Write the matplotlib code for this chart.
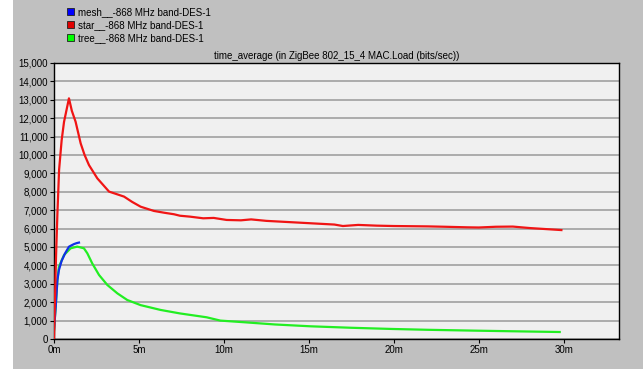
import matplotlib.pyplot as plt
from matplotlib.patches import Patch, Rectangle

# time in minutes, load in bits/sec
mesh_t = [0.0, 0.1, 0.2, 0.29, 0.45, 0.65, 0.88, 1.05, 1.18, 1.33, 1.47]
mesh_v = [490, 1760, 3200, 3750, 4250, 4650, 5016, 5100, 5160, 5210, 5240]

star_t = [0.0, 0.12, 0.2, 0.3, 0.45, 0.59, 0.88, 1.05, 1.27, 1.57, 1.8, 2.06, 2.55,
          3.24, 3.6, 4.12, 4.6, 5.1, 5.88, 6.5, 7.06, 7.41, 8.0, 8.78, 9.4, 10.16,
          11.0, 11.6, 12.5, 13.5, 14.5, 15.5, 16.5, 17.0, 17.9, 19.0, 20.0, 21.0,
          22.0, 23.0, 24.3, 25.0, 26.0, 27.0, 28.0, 29.86]
star_v = [0, 4500, 6800, 9200, 10800, 11800, 13080, 12400, 11810, 10630, 10000,
          9450, 8730, 8010, 7900, 7740, 7450, 7190, 6960, 6860, 6780, 6700, 6650,
          6560, 6580, 6470, 6450, 6500, 6420, 6370, 6320, 6270, 6220, 6140, 6200,
          6160, 6140, 6130, 6120, 6100, 6070, 6060, 6100, 6110, 6030, 5920]

tree_t = [0.0, 0.1, 0.2, 0.29, 0.59, 0.98, 1.37, 1.76, 1.96, 2.25, 2.65, 3.14,
          3.73, 4.31, 5.1, 6.27, 7.41, 8.98, 9.79, 11.2, 13.0, 15.1, 17.5, 19.9,
          22.0, 24.7, 27.0, 29.76]
tree_v = [490, 1760, 3200, 3930, 4565, 4930, 5020, 4930, 4660, 4110, 3480, 2935,
          2480, 2120, 1840, 1580, 1390, 1180, 1000, 910, 790, 690, 610, 545, 500,
          455, 420, 380]

x_ticks = [0, 5, 10, 15, 20, 25, 30]
x_labels = ['0m', '5m', '10m', '15m', '20m', '25m', '30m']
y_ticks = list(range(0, 15001, 1000))
labels = ['mesh__-868 MHz band-DES-1', 'star__-868 MHz band-DES-1', 'tree__-868 MHz band-DES-1']

plt.rcParams['font.family'] = ['Liberation Sans', 'DejaVu Sans']
plt.rcParams['font.size'] = 7

fig = plt.figure(figsize=(6.43, 3.69), dpi=100, facecolor='#c0c0c0')
fig.patches.append(Rectangle((0, 0), 13 / 643, 1, transform=fig.transFigure,
                             facecolor='white', edgecolor='none', zorder=-1))
ax = fig.add_axes([54 / 643, 1 - 339 / 369, 565 / 643, 276 / 369])
ax.set_facecolor('#f0f0f0')

ax.plot(tree_t, tree_v, color='#22ee22', lw=1.6, zorder=3)
ax.plot(mesh_t, mesh_v, color='#1030e8', lw=1.6, zorder=4)
ax.plot(star_t, star_v, color='#f01515', lw=1.6, zorder=5)

ax.set_xlim(0, 33.25)
ax.set_ylim(0, 15000)
ax.set_xticks(x_ticks)
ax.set_xticklabels(x_labels)
ax.set_yticks(y_ticks)
ax.set_yticklabels([f'{v:,}' for v in y_ticks])
ax.grid(axis='y', color='#a0a0a0', lw=1.2)
ax.set_axisbelow(True)
ax.tick_params(length=3, width=0.8, pad=1.5, colors='black', labelsize=7)
for s in ax.spines.values():
    s.set_color('black')
    s.set_linewidth(1.0)

ax.set_title('time_average (in ZigBee 802_15_4 MAC.Load (bits/sec))', fontsize=7, pad=3)

handles = [Patch(facecolor=c, edgecolor='#202020', lw=0.6)
           for c in ['#0000ff', '#e00000', '#00ff00']]
fig.legend(handles, labels, loc='upper left', bbox_to_anchor=(60 / 643, 1.0),
           frameon=False, handlelength=0.75, handleheight=0.75, handletextpad=0.4,
           labelspacing=0.3, borderpad=0.2, fontsize=7)

fig.savefig('out.png', dpi=100, facecolor=fig.get_facecolor())
